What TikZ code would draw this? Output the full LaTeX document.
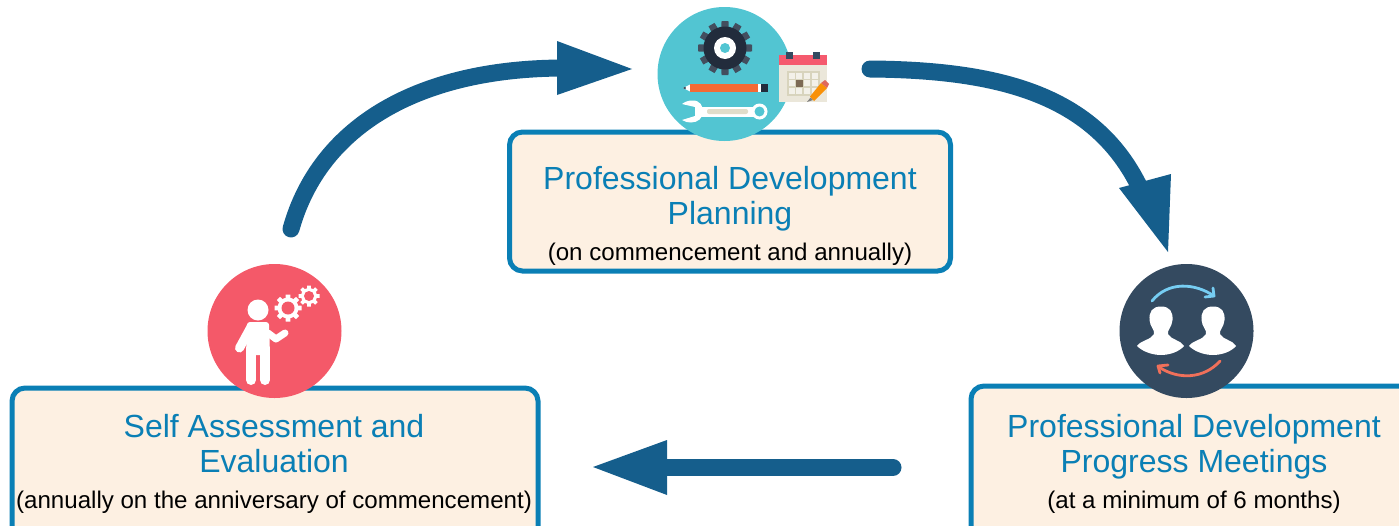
\documentclass[tikz,border=0pt]{standalone}
\usepackage{fontspec}
\setmainfont{Liberation Sans}
\usetikzlibrary{arrows.meta,calc}
\definecolor{boxfill}{HTML}{FDF0E2}
\definecolor{boxline}{HTML}{0A7FB5}
\definecolor{arrowblue}{HTML}{155E8C}
\definecolor{titleblue}{HTML}{0A7FB5}
\definecolor{teal}{HTML}{52C5D2}
\definecolor{gearnavy}{HTML}{222C3C}
\definecolor{tooth}{HTML}{434E5E}
\definecolor{pencilor}{HTML}{F46A35}
\definecolor{calred}{HTML}{F55A6E}
\definecolor{calbg}{HTML}{EBE7DA}
\definecolor{calgrid}{HTML}{D8D4BD}
\definecolor{calbrown}{HTML}{7D6A55}
\definecolor{redc}{HTML}{F45969}
\definecolor{darkc}{HTML}{344A60}
\definecolor{skyar}{HTML}{76CDF2}
\definecolor{salmonar}{HTML}{F0705A}
\tikzset{
  infobox/.style={draw=boxline,fill=boxfill,line width=5pt,rounded corners=13pt,inner sep=0pt},
  flow/.style={draw=arrowblue,line width=17pt,line cap=round},
  headfill/.style={fill=arrowblue,draw=none},
  title/.style={text=titleblue,font=\fontsize{32}{36}\selectfont,anchor=base,inner sep=0pt},
  subt/.style={text=black,font=\fontsize{24.1}{28}\selectfont,anchor=base,inner sep=0pt},
  disc/.style={circle,minimum size=134pt,inner sep=0pt,draw=none}
}
\newcommand{\cogteeth}[6]{%
  \foreach \a in {1,...,#2}{
    \fill[#6,rotate around={\a*360/#2:(#1)}] ($(#1)+(-#5,0)$) -- ($(#1)+(-0.75*#5,-#3)$) -- ($(#1)+(0.75*#5,-#3)$) -- ($(#1)+(#5,0)$) -- cycle;
  }%
  \fill[#6] (#1) circle (#4);
}
\begin{document}
\begin{tikzpicture}[x=1pt,y=-1pt]
\useasboundingbox (0,0) rectangle (1399,525);
\clip (0,0) rectangle (1399,525);
% boxes
\node[infobox,minimum width=441pt,minimum height=139pt] (planbox) at (730,201.5) {};
\node[infobox,minimum width=526pt,minimum height=170pt] (selfbox) at (275,473) {};
\node[infobox,minimum width=460pt,minimum height=170pt] (meetbox) at (1201,471) {};
% texts
\node[title] (plan1) at (730,189) {Professional Development};
\node[title] (plan2) at (730,224) {Planning};
\node[subt] (plan3) at (730,260) {(on commencement and annually)};
\node[title] (self1) at (274,437) {Self Assessment and};
\node[title] (self2) at (274,472) {Evaluation};
\node[subt] (self3) at (274,508) {(annually on the anniversary of commencement)};
\node[title] (meet1) at (1194,437) {Professional Development};
\node[title] (meet2) at (1194,472) {Progress Meetings};
\node[subt] (meet3) at (1194,508) {(at a minimum of 6 months)};
% connector ends
\coordinate (a1s) at (291,229);
\coordinate (a1e) at (565,68);
\coordinate (a1t) at (632,69);
\coordinate (a2s) at (870,69);
\coordinate (a2e) at (1140,188);
\coordinate (a2t) at (1168,252);
\coordinate (a3s) at (893,467.5);
\coordinate (a3e) at (662,467.5);
\coordinate (a3t) at (593,467);
% connectors
\draw[flow] (a1s) .. controls (320,125) and (420,68) .. (a1e);
\fill[headfill] (a1t) -- (557,41) -- (557,95) -- cycle;
\draw[flow] (a2s) .. controls (1000,70) and (1095,95) .. (a2e);
\fill[headfill] (a2t) -- (1119,188) -- (1171,174) -- cycle;
\draw[flow] (a3s) -- (a3e);
\fill[headfill] (a3t) -- (667,440) -- (667,495) -- cycle;
% planning icon
\node[disc,fill=teal] (plandisc) at (724.5,74) {};
\cogteeth{725,48}{12}{27}{21}{4.6}{tooth}
\fill[gearnavy] (725,48) circle (21.5);
\fill[white] (725,48) circle (11);
\fill[teal] (725,48) circle (5);
% pencil
\fill[white] (683,88) -- (690,84.5) -- (690,91.5) -- cycle;
\fill[gearnavy] (683,88) -- (685.5,86.8) -- (685.5,89.2) -- cycle;
\fill[pencilor] (690,84) rectangle (758,92);
\fill[white] (758,84) rectangle (761,92);
\fill[gearnavy] (761,84) rectangle (768,92);
% wrench
\fill[white] (700,106.5) rectangle (758,116.5);
\fill[white] (692,100.5) .. controls (700,100) and (703,106) .. (703,111.5) .. controls (703,118) and (698,122.5) .. (691,122.5) .. controls (688,122.5) and (685,122) .. (682,120) -- (695,116) -- (695,107) -- (682,104) .. controls (685,101.5) and (689,100.5) .. (692,100.5) -- cycle;
\fill[white] (759.5,111.5) circle (8);
\fill[teal] (759.5,111.5) circle (5);
\fill[calgrid!80!white,rounded corners=2pt] (707,109) rectangle (748,114);
% calendar
\fill[calbg] (779,58) rectangle (827,102);
\fill[calred] (779,55) rectangle (827,64.5);
\fill[darkc] (786,52) rectangle (793,59);
\fill[darkc] (813,52) rectangle (820,59);
\fill[calgrid] (787,71) rectangle (820,96);
\foreach \i in {0,1,2,3}{\foreach \j in {0,1,2}{
  \fill[calbg!60!white] (788.5+\i*7.7,72.5+\j*7.7) rectangle +(6,6);
}}
\fill[calbrown] (796,80) rectangle (803,87);
% small pencil
\fill[gray] (807,102) -- (810.5,97.5) -- (813,100) -- cycle;
\fill[orange!85!yellow!90!brown] (810,96.5) -- (821,83) -- (827,88) -- (814,101) -- cycle;
\fill[calred!60!brown] (821,83) -- (825,80) -- (829,84) -- (827,88) -- cycle;
% self icon
\node[disc,fill=redc] (selfdisc) at (274.5,331) {};
\fill[white] (258,310) circle (10.5);
\fill[white,rounded corners=3pt] (247,322) -- (269,322) -- (270,355) -- (246,355) -- cycle;
\draw[white,line width=10pt,line cap=round] (251,350) -- (251,380);
\draw[white,line width=10pt,line cap=round] (265,350) -- (265,380);
\draw[white,line width=9pt,line cap=round] (251,327) -- (239.5,348);
\draw[white,line width=7pt,line cap=round,line join=round] (268,333) -- (276,339) -- (285,333);
\cogteeth{288,308}{8}{13.5}{10.5}{3}{white}
\fill[redc] (288,308) circle (6.5);
\cogteeth{309,296}{8}{10.5}{8}{2.4}{white}
\fill[redc] (309,296) circle (5);
% meeting icon
\node[disc,fill=darkc] (meetdisc) at (1186.5,331) {};
\foreach \cx in {1161,1213}{
  \fill[white] (\cx,306.5) .. controls (\cx+9,306.5) and (\cx+12,312) .. (\cx+11.5,320) .. controls (\cx+11,327) and (\cx+6,330) .. (\cx+7,334) .. controls (\cx+10,340) and (\cx+20,340) .. (\cx+23,346) .. controls (\cx+18,352) and (\cx+8,355) .. (\cx,355) .. controls (\cx-8,355) and (\cx-18,352) .. (\cx-24,346) .. controls (\cx-20,340) and (\cx-10,340) .. (\cx-7,334) .. controls (\cx-6,330) and (\cx-11,327) .. (\cx-11.5,320) .. controls (\cx-12,312) and (\cx-9,306.5) .. (\cx,306.5) -- cycle;
}
\draw[skyar,line width=2.8pt,line cap=round] (1152,301) .. controls (1168,281) and (1195,283) .. (1214,296);
\draw[skyar,line width=2.8pt,line cap=round,line join=round] (1213,288) -- (1214,296) -- (1205,297);
\draw[salmonar,line width=2.8pt,line cap=round] (1220,361) .. controls (1204,379) and (1178,380) .. (1159,367);
\draw[salmonar,line width=2.8pt,line cap=round,line join=round] (1168,365) -- (1158,366) -- (1160,373);
\end{tikzpicture}
\end{document}
